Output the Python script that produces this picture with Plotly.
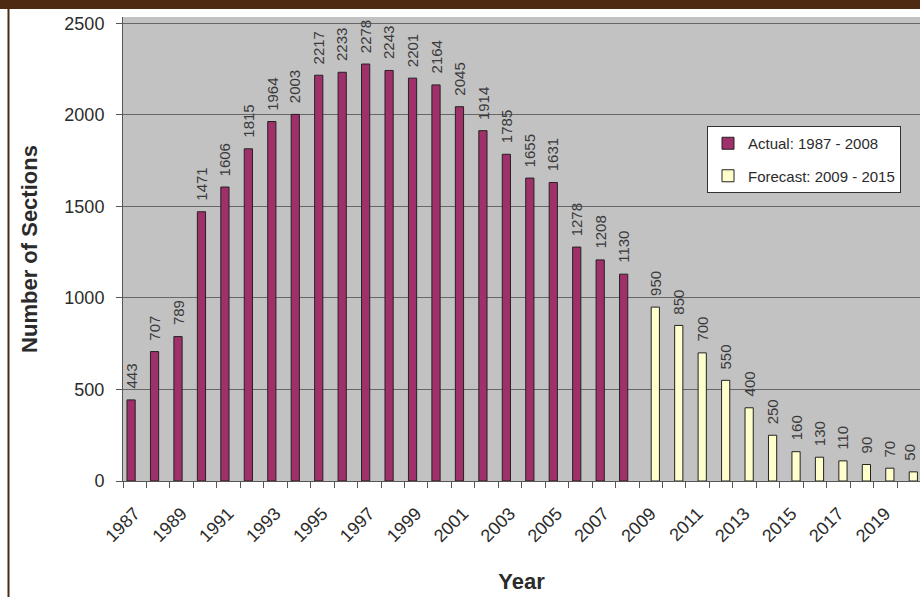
import plotly.graph_objects as go

# Actual counts, 1987-2008
actual_years = list(range(1987, 2009))
actual_values = [443, 707, 789, 1471, 1606, 1815, 1964, 2003, 2217, 2233, 2278,
                 2243, 2201, 2164, 2045, 1914, 1785, 1655, 1631, 1278, 1208, 1130]

# Forecast counts, 2009-2020
forecast_years = list(range(2009, 2021))
forecast_values = [950, 850, 700, 550, 400, 250, 160, 130, 110, 90, 70, 50]

# Year labels shown on the x axis
tick_years = list(range(1987, 2020, 2))

FONT = "Arial, 'Liberation Sans', sans-serif"
TEXT = "#2b2b2b"
BROWN = "#4f2a12"

# Two-series grouped look: actual bar left of the year centre, forecast right of it
ACT_OFF, FC_OFF, BAR_W = -0.33, 0.02, 0.35

fig = go.Figure()
fig.add_trace(go.Bar(
    x=actual_years, y=actual_values, name="Actual: 1987 - 2008",
    offset=ACT_OFF, width=BAR_W, legendgroup="a",
    marker=dict(color="#a0306a", line=dict(color="#222222", width=1)),
))
fig.add_trace(go.Bar(
    x=forecast_years, y=forecast_values, name="Forecast: 2009 - 2015",
    offset=FC_OFF, width=BAR_W, legendgroup="f",
    marker=dict(color="#ffffcc", line=dict(color="#222222", width=1)),
))

# Vertical value labels above each bar
last_year = forecast_years[-1]
annotations = []
for yrs, vals, off in ((actual_years, actual_values, ACT_OFF),
                       (forecast_years, forecast_values, FC_OFF)):
    for yr, v in zip(yrs, vals):
        annotations.append(dict(
            x=yr + off + BAR_W / 2, y=v, xref="x", yref="y",
            text=str(v), textangle=-90, showarrow=False,
            xanchor="center", yanchor="bottom", yshift=9,
            # keep the right-most label inside the page edge
            xshift=-4 if yr == last_year else 0,
            font=dict(family=FONT, size=15, color="#3a3a3a"),
        ))

# Brown frame: band across the top and a thin rule down the left side
W, H = 920, 597
L, R, T, B = 123, 0, 17, 116
pw, ph = W - L - R, H - T - B


def px_x(p):
    return (p - L) / pw


def px_y(p):
    return (H - B - p) / ph


shapes = [
    dict(type="rect", xref="paper", yref="paper",
         x0=px_x(0), x1=px_x(W), y0=px_y(9), y1=px_y(0),
         fillcolor=BROWN, line=dict(width=0), layer="above"),
    dict(type="rect", xref="paper", yref="paper",
         x0=px_x(7.5), x1=px_x(9.5), y0=px_y(H), y1=px_y(9),
         fillcolor=BROWN, line=dict(width=0), layer="above"),
]

fig.update_layout(
    width=W, height=H,
    margin=dict(l=L, r=R, t=T, b=B, autoexpand=False),
    paper_bgcolor="white",
    plot_bgcolor="#c2c2c3",
    font=dict(family=FONT, color=TEXT),
    barmode="overlay",
    showlegend=True,
    legend=dict(
        x=px_x(707), y=px_y(126), xanchor="left", yanchor="top",
        bgcolor="white", bordercolor="#333333", borderwidth=1,
        font=dict(family=FONT, size=15, color=TEXT),
        traceorder="grouped", tracegroupgap=10,
    ),
    xaxis=dict(
        range=[1986.5, 2020.48],
        tickmode="array", tickvals=tick_years,
        ticktext=[str(y) for y in tick_years],
        tickangle=-45, ticks="outside", ticklen=6,
        tickcolor="rgba(0,0,0,0)", ticklabelstandoff=8,
        tickfont=dict(family=FONT, size=18, color=TEXT),
        minor=dict(tickmode="array",
                   tickvals=[y - 0.5 for y in range(1987, 2021)],
                   ticks="outside", ticklen=6, tickcolor="#555555",
                   tickwidth=1, showgrid=False),
        showgrid=False, zeroline=False,
        showline=True, linecolor="#555555", linewidth=1,
        title=dict(text="<b>Year</b>", standoff=28,
                   font=dict(family=FONT, size=22, color=TEXT)),
    ),
    yaxis=dict(
        range=[0, 2535],
        tickmode="array", tickvals=[0, 500, 1000, 1500, 2000, 2500],
        ticks="outside", ticklen=6, tickcolor="#555555",
        ticklabelstandoff=8,
        tickfont=dict(family=FONT, size=18, color=TEXT),
        showgrid=True, gridcolor="#676767", gridwidth=1.2,
        zeroline=False,
        showline=True, linecolor="#555555", linewidth=1,
        title=dict(text="<b>Number of Sections</b>", standoff=20,
                   font=dict(family=FONT, size=22, color=TEXT)),
    ),
    annotations=annotations,
    shapes=shapes,
)

fig.write_html("out.html")
